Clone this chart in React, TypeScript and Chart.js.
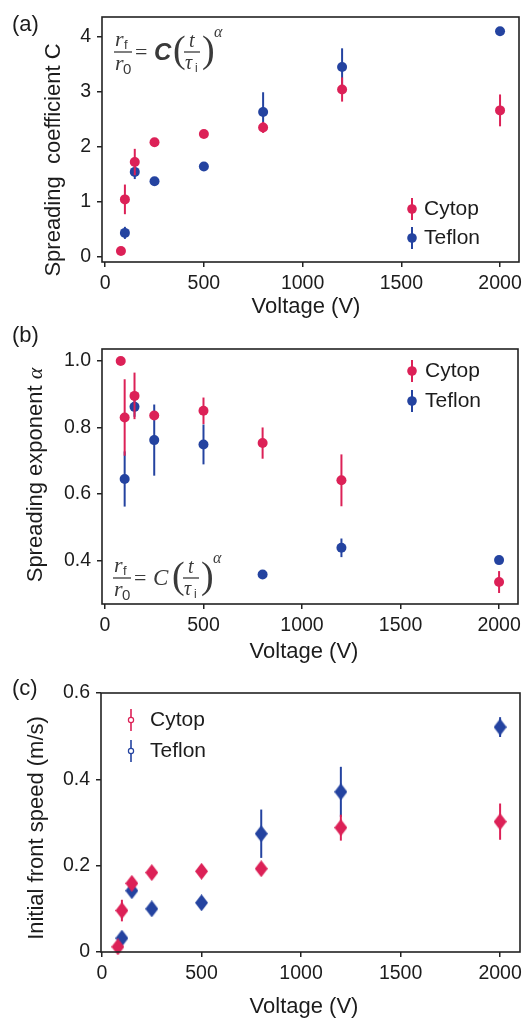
import React, { useEffect, useRef } from "react";
import { Chart, registerables } from "chart.js";
Chart.register(...registerables);

const RED = "#dc2157";
const BLUE = "#2443a0";
const INK = "#1c1c1c";
const SANS = "'Liberation Sans', Arial, sans-serif";
const SERIF = "'Liberation Serif', 'DejaVu Serif', serif";

// ---- data ----
const voltCytop = [80, 100, 150, 250, 500, 800, 1200, 2000];
const voltTeflon = [100, 150, 250, 500, 800, 1200, 2000];

const coefCytop = [0.1, 1.04, 1.72, 2.08, 2.23, 2.35, 3.04, 2.66];
const coefCytopErr = [0, 0.27, 0.24, 0.07, 0.05, 0.1, 0.22, 0.29];
const coefTeflon = [0.43, 1.54, 1.37, 1.64, 2.63, 3.45, 4.1];
const coefTeflonErr = [0.11, 0.13, 0.05, 0.06, 0.36, 0.34, 0.03];

const expCytop = [1.0, 0.83, 0.895, 0.836, 0.85, 0.753, 0.641, 0.335];
const expCytopErr = [0, 0.115, 0.07, 0.01, 0.04, 0.047, 0.078, 0.033];
const expTeflon = [0.645, 0.862, 0.762, 0.749, 0.358, 0.438, 0.401];
const expTeflonErr = [0.083, 0.03, 0.107, 0.06, 0, 0.028, 0.012];

const speedCytop = [0.012, 0.096, 0.159, 0.184, 0.187, 0.193, 0.288, 0.302];
const speedCytopErr = [0.005, 0.025, 0.01, 0.01, 0.01, 0.01, 0.03, 0.042];
const speedTeflon = [0.032, 0.142, 0.1, 0.114, 0.274, 0.371, 0.521];
const speedTeflonErr = [0.01, 0.01, 0.005, 0.01, 0.056, 0.058, 0.023];

const xTicks = [0, 500, 1000, 1500, 2000];
const coefTicks = [0, 1, 2, 3, 4];
const expTicks = [0.4, 0.6, 0.8, 1.0];
const speedTicks = [0, 0.2, 0.4, 0.6];
const seriesNames = ["Cytop", "Teflon"];

type Box = { l: number; r: number; t: number; b: number };
type Panel = {
  H: number;
  box: Box;
  xMin: number;
  xMax: number;
  yMin: number;
  yMax: number;
  yTicks: number[];
  yFmt: (v: number) => string;
  cy: number[];
  cyErr: number[];
  ty: number[];
  tyErr: number[];
  diamond?: boolean;
  label: string;
  labelY: number;
  yTitle: string;
  yTitleAlpha?: boolean;
  yTitlePos: [number, number];
  xTitlePos: [number, number];
  legend: { mx: number; tx: number; y1: number; y2: number; hollow?: boolean };
  formula?: { x: number; y: number; boldC: boolean };
};

const panels: Panel[] = [
  {
    H: 322,
    box: { l: 102, r: 519, t: 17, b: 262 },
    xMin: -16, xMax: 2096, yMin: -0.1, yMax: 4.36,
    yTicks: coefTicks, yFmt: (v) => String(v),
    cy: coefCytop, cyErr: coefCytopErr, ty: coefTeflon, tyErr: coefTeflonErr,
    label: "(a)", labelY: 25,
    yTitle: "Spreading  coefficient C", yTitlePos: [54, 160], xTitlePos: [306, 307],
    legend: { mx: 412, tx: 424, y1: 209, y2: 238 },
    formula: { x: 114, y: 52, boldC: true },
  },
  {
    H: 348,
    box: { l: 102, r: 518, t: 27, b: 282 },
    xMin: -15, xMax: 2096, yMin: 0.269, yMax: 1.036,
    yTicks: expTicks, yFmt: (v) => v.toFixed(1),
    cy: expCytop, cyErr: expCytopErr, ty: expTeflon, tyErr: expTeflonErr,
    label: "(b)", labelY: 14,
    yTitle: "Spreading exponent ", yTitleAlpha: true, yTitlePos: [36, 153], xTitlePos: [304, 330],
    legend: { mx: 412, tx: 425, y1: 49, y2: 79 },
    formula: { x: 113, y: 256, boldC: false },
  },
  {
    H: 348,
    box: { l: 101, r: 520, t: 23, b: 282 },
    xMin: -5, xMax: 2100, yMin: 0, yMax: 0.6,
    yTicks: speedTicks, yFmt: (v) => (v === 0 ? "0" : v.toFixed(1)),
    cy: speedCytop, cyErr: speedCytopErr, ty: speedTeflon, tyErr: speedTeflonErr,
    diamond: true,
    label: "(c)", labelY: 19,
    yTitle: "Initial front speed (m/s)", yTitlePos: [37, 158], xTitlePos: [304, 337],
    legend: { mx: 131, tx: 150, y1: 50, y2: 81, hollow: true },
  },
];

function makeDiamond(color: string, w = 13, h = 17): HTMLCanvasElement {
  const c = document.createElement("canvas");
  c.width = w;
  c.height = h;
  const g = c.getContext("2d")!;
  g.fillStyle = color;
  g.beginPath();
  g.moveTo(w / 2, 0);
  g.lineTo(w, h / 2);
  g.lineTo(w / 2, h);
  g.lineTo(0, h / 2);
  g.closePath();
  g.fill();
  return c;
}

function drawFormula(ctx: CanvasRenderingContext2D, x0: number, yb: number, boldC: boolean) {
  const col = "#3a3a3a";
  ctx.save();
  ctx.fillStyle = col;
  ctx.strokeStyle = col;
  ctx.textAlign = "left";
  ctx.textBaseline = "alphabetic";
  // r_f / r_0
  ctx.font = `italic 22px ${SERIF}`;
  ctx.fillText("r", x0 + 1, yb - 6);
  ctx.font = `13px ${SANS}`;
  ctx.fillText("f", x0 + 10, yb - 3);
  ctx.lineWidth = 1.3;
  ctx.beginPath();
  ctx.moveTo(x0, yb);
  ctx.lineTo(x0 + 18, yb);
  ctx.stroke();
  ctx.font = `italic 22px ${SERIF}`;
  ctx.fillText("r", x0 + 1, yb + 18);
  ctx.font = `15px ${SANS}`;
  ctx.fillText("0", x0 + 9, yb + 22);
  // =
  ctx.font = `22px ${SERIF}`;
  ctx.textBaseline = "middle";
  ctx.fillText("=", x0 + 21, yb + 1);
  // C
  ctx.font = boldC ? `bold italic 24px ${SANS}` : `italic 23px ${SERIF}`;
  ctx.fillText("C", x0 + 40, yb + 1);
  // ( t / tau_i )^alpha
  ctx.font = `38px ${SERIF}`;
  ctx.fillText("(", x0 + 59, yb);
  ctx.textBaseline = "alphabetic";
  ctx.font = `italic 20px ${SERIF}`;
  ctx.fillText("t", x0 + 75, yb - 5);
  ctx.beginPath();
  ctx.moveTo(x0 + 70, yb);
  ctx.lineTo(x0 + 86, yb);
  ctx.stroke();
  ctx.fillText("\u03c4", x0 + 71, yb + 17);
  ctx.font = `12px ${SANS}`;
  ctx.fillText("i", x0 + 81, yb + 20);
  ctx.font = `38px ${SERIF}`;
  ctx.textBaseline = "middle";
  ctx.fillText(")", x0 + 88, yb);
  ctx.textBaseline = "alphabetic";
  ctx.font = `italic 16px ${SERIF}`;
  ctx.fillText("\u03b1", x0 + 100, yb - 15);
  ctx.restore();
}

function PanelChart({ p }: { p: Panel }) {
  const ref = useRef<HTMLCanvasElement | null>(null);
  useEffect(() => {
    const canvas = ref.current!;
    const redStyle: any = p.diamond ? makeDiamond(RED) : "circle";
    const blueStyle: any = p.diamond ? makeDiamond(BLUE) : "circle";
    const mk = (xs: number[], ys: number[]) => xs.map((x, i) => ({ x, y: ys[i] }));
    const tickFont = { family: SANS, size: 19.5 };
    const plugin = {
      id: "panelDeco" + p.label,
      beforeDatasetDraw(chart: any, args: any) {
        const ds = chart.data.datasets[args.index];
        const err = ds.err as number[];
        if (!err) return;
        const ys = chart.scales.y;
        const ctx = chart.ctx;
        ctx.save();
        ctx.strokeStyle = ds.backgroundColor;
        ctx.lineWidth = 2;
        args.meta.data.forEach((pt: any, i: number) => {
          const e = err[i];
          if (!e) return;
          const v = ds.data[i].y;
          ctx.beginPath();
          ctx.moveTo(pt.x, ys.getPixelForValue(v - e));
          ctx.lineTo(pt.x, ys.getPixelForValue(v + e));
          ctx.stroke();
        });
        ctx.restore();
      },
      afterDraw(chart: any) {
        const ctx = chart.ctx as CanvasRenderingContext2D;
        const a = chart.chartArea;
        ctx.save();
        // frame
        ctx.strokeStyle = "#222";
        ctx.lineWidth = 1.6;
        ctx.strokeRect(a.left, a.top, a.right - a.left, a.bottom - a.top);
        ctx.fillStyle = INK;
        // panel label
        ctx.font = `22px ${SANS}`;
        ctx.textAlign = "left";
        ctx.textBaseline = "middle";
        ctx.fillText(p.label, 12, p.labelY);
        // x title
        ctx.textAlign = "center";
        ctx.fillText("Voltage (V)", p.xTitlePos[0], p.xTitlePos[1]);
        // y title
        ctx.save();
        ctx.translate(p.yTitlePos[0], p.yTitlePos[1]);
        ctx.rotate(-Math.PI / 2);
        ctx.textAlign = "left";
        ctx.font = `22px ${SANS}`;
        const w1 = ctx.measureText(p.yTitle).width;
        let w2 = 0;
        if (p.yTitleAlpha) {
          ctx.font = `italic 22px ${SERIF}`;
          w2 = ctx.measureText("\u03b1").width;
        }
        const start = -(w1 + w2) / 2;
        ctx.font = `22px ${SANS}`;
        ctx.fillText(p.yTitle, start, 0);
        if (p.yTitleAlpha) {
          ctx.font = `italic 22px ${SERIF}`;
          ctx.fillText("\u03b1", start + w1, 0);
        }
        ctx.restore();
        // legend
        const lg = p.legend;
        const items: [string, string, number][] = [
          [seriesNames[0], RED, lg.y1],
          [seriesNames[1], BLUE, lg.y2],
        ];
        items.forEach(([name, col, y]) => {
          ctx.strokeStyle = col;
          ctx.fillStyle = col;
          ctx.lineWidth = lg.hollow ? 1.6 : 2;
          ctx.beginPath();
          ctx.moveTo(lg.mx, y - 11);
          ctx.lineTo(lg.mx, y + 11);
          ctx.stroke();
          ctx.beginPath();
          if (lg.hollow) {
            ctx.fillStyle = "#fff";
            ctx.arc(lg.mx, y, 2.6, 0, Math.PI * 2);
            ctx.fill();
            ctx.lineWidth = 1.2;
            ctx.stroke();
          } else {
            ctx.arc(lg.mx, y, 4.8, 0, Math.PI * 2);
            ctx.fill();
          }
          ctx.fillStyle = INK;
          ctx.font = `21px ${SANS}`;
          ctx.textAlign = "left";
          ctx.textBaseline = "middle";
          ctx.fillText(name, lg.tx, y);
        });
        if (p.formula) drawFormula(ctx, p.formula.x, p.formula.y, p.formula.boldC);
        ctx.restore();
      },
    };
    const r = p.diamond ? 7 : 5;
    const chart = new Chart(canvas, {
      type: "scatter",
      data: {
        datasets: [
          {
            label: seriesNames[0],
            data: mk(voltCytop, p.cy),
            err: p.cyErr,
            backgroundColor: RED,
            borderColor: RED,
            pointStyle: redStyle,
            pointRadius: r,
            pointHoverRadius: r,
            pointBorderWidth: 0,
            clip: false,
          } as any,
          {
            label: seriesNames[1],
            data: mk(voltTeflon, p.ty),
            err: p.tyErr,
            backgroundColor: BLUE,
            borderColor: BLUE,
            pointStyle: blueStyle,
            pointRadius: r,
            pointHoverRadius: r,
            pointBorderWidth: 0,
            clip: false,
          } as any,
        ],
      },
      options: {
        animation: false,
        responsive: false,
        maintainAspectRatio: false,
        layout: { autoPadding: false, padding: { left: 0, top: p.box.t, right: 524 - p.box.r, bottom: 0 } },
        plugins: { legend: { display: false }, tooltip: { enabled: false } },
        events: [],
        scales: {
          x: {
            type: "linear",
            min: p.xMin,
            max: p.xMax,
            afterBuildTicks: (s: any) => {
              s.ticks = xTicks.map((v) => ({ value: v }));
            },
            afterFit: (s: any) => {
              s.height = p.H - p.box.b;
              s.paddingLeft = 0;
              s.paddingRight = 0;
            },
            ticks: { font: tickFont, color: INK, padding: 5, maxRotation: 0, callback: (v: any) => String(v) },
            grid: { drawOnChartArea: false, drawTicks: true, tickLength: 5, color: "#222", lineWidth: 1.5 },
            border: { display: false },
          },
          y: {
            type: "linear",
            min: p.yMin,
            max: p.yMax,
            afterBuildTicks: (s: any) => {
              s.ticks = p.yTicks.map((v) => ({ value: v }));
            },
            afterFit: (s: any) => {
              s.width = p.box.l;
              s.paddingTop = 0;
              s.paddingBottom = 0;
            },
            ticks: { font: tickFont, color: INK, padding: 6, callback: (v: any) => p.yFmt(Number(v)) },
            grid: { drawOnChartArea: false, drawTicks: true, tickLength: 5, color: "#222", lineWidth: 1.5 },
            border: { display: false },
          },
        },
      } as any,
      plugins: [plugin as any],
    });
    return () => chart.destroy();
  }, [p]);
  return <canvas ref={ref} width={524} height={p.H} style={{ display: "block", width: 524, height: p.H }} />;
}

export default function App() {
  return (
    <div style={{ position: "absolute", left: 0, top: 0, width: 524, height: 1018, background: "#fff" }}>
      {panels.map((p) => (
        <PanelChart key={p.label} p={p} />
      ))}
    </div>
  );
}
